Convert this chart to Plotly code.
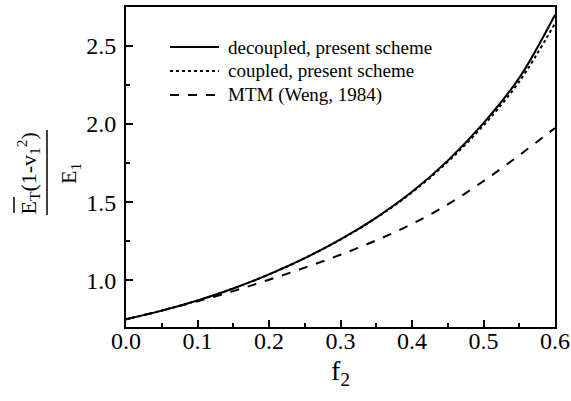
import plotly.graph_objects as go

f2 = [0.00, 0.05, 0.10, 0.15, 0.20, 0.25, 0.30, 0.35, 0.40, 0.45, 0.50, 0.55, 0.60]
decoupled = [0.750, 0.805, 0.870, 0.947, 1.037, 1.141, 1.261, 1.401, 1.566, 1.766, 2.006, 2.296, 2.700]
coupled = [0.750, 0.805, 0.870, 0.947, 1.037, 1.141, 1.260, 1.399, 1.562, 1.758, 1.992, 2.272, 2.645]
mtm = [0.750, 0.805, 0.865, 0.930, 1.003, 1.080, 1.163, 1.255, 1.360, 1.485, 1.635, 1.800, 1.975]
names = ["decoupled, present scheme", "coupled, present scheme", "MTM (Weng, 1984)"]
dashes = ["solid", "dot", "dash"]

FONT = "Liberation Serif, Times New Roman, serif"

fig = go.Figure()
for ys, nm, d in zip([decoupled, coupled, mtm], names, dashes):
    fig.add_trace(go.Scatter(x=f2, y=ys, mode="lines", name=nm, showlegend=False,
                             line=dict(color="black", width=2, dash=d, shape="spline")))

# manual legend (compact row spacing)
leg_rows = [0.875, 0.800, 0.725]
for nm, d, yy in zip(names, dashes, leg_rows):
    fig.add_shape(type="line", xref="paper", yref="paper", xsizemode="pixel",
                  xanchor=0, x0=44, x1=93, y0=yy, y1=yy,
                  line=dict(color="black", width=2, dash=d))
    fig.add_annotation(text=nm, xref="paper", yref="paper", x=0.2331, y=yy,
                       xanchor="left", yanchor="middle", showarrow=False,
                       font=dict(family=FONT, size=19, color="black"))

axis_common = dict(showline=True, linecolor="black", linewidth=2, mirror=True,
                   ticks="inside", ticklen=7, tickwidth=2, tickcolor="black",
                   showgrid=False, zeroline=False, automargin=False,
                   tickfont=dict(family=FONT, size=24, color="black"))

fig.update_xaxes(range=[0, 0.6], dtick=0.1, tickformat=".1f", ticklabelstandoff=-9,
                 minor=dict(ticks="inside", dtick=0.05, ticklen=4, tickwidth=2, tickcolor="black"),
                 **axis_common)
fig.update_yaxes(range=[0.7, 2.75], tick0=1.0, dtick=0.5, tickformat=".1f", ticklabelstandoff=3,
                 minor=dict(ticks="inside", dtick=0.25, ticklen=4, tickwidth=2, tickcolor="black"),
                 **axis_common)

# x-axis title
fig.add_annotation(text="f<sub>2</sub>", xref="paper", yref="paper", x=0.5, y=0,
                   xanchor="center", yanchor="middle", yshift=-45, showarrow=False,
                   font=dict(family=FONT, size=28, color="black"))

# y-axis title as a fraction
fig.add_annotation(text="E<sub>T</sub>(1-v<sub>1</sub><sup>2</sup>)", textangle=-90,
                   xref="paper", yref="paper", x=0, y=0.48, xanchor="center", yanchor="middle",
                   xshift=-98, showarrow=False, font=dict(family=FONT, size=22, color="black"))
fig.add_annotation(text="E<sub>1</sub>", textangle=-90,
                   xref="paper", yref="paper", x=0, y=0.478, xanchor="center", yanchor="middle",
                   xshift=-56, showarrow=False, font=dict(family=FONT, size=22, color="black"))
# fraction bar
fig.add_shape(type="line", xref="paper", yref="paper", xsizemode="pixel", ysizemode="pixel",
              xanchor=0, yanchor=0, x0=-79, x1=-79, y0=112, y1=197,
              line=dict(color="black", width=1.5))
# overline on E
fig.add_shape(type="line", xref="paper", yref="paper", xsizemode="pixel", ysizemode="pixel",
              xanchor=0, yanchor=0, x0=-112, x1=-112, y0=114, y1=130,
              line=dict(color="black", width=1.5))

fig.update_layout(width=571, height=401, margin=dict(l=126, r=16, t=7, b=74, autoexpand=False),
                  plot_bgcolor="white", paper_bgcolor="white", showlegend=False,
                  font=dict(family=FONT, color="black"))

fig.write_html("out.html", config={"displayModeBar": False},
               post_script="document.body.style.margin='0';document.body.style.overflow='hidden';")
